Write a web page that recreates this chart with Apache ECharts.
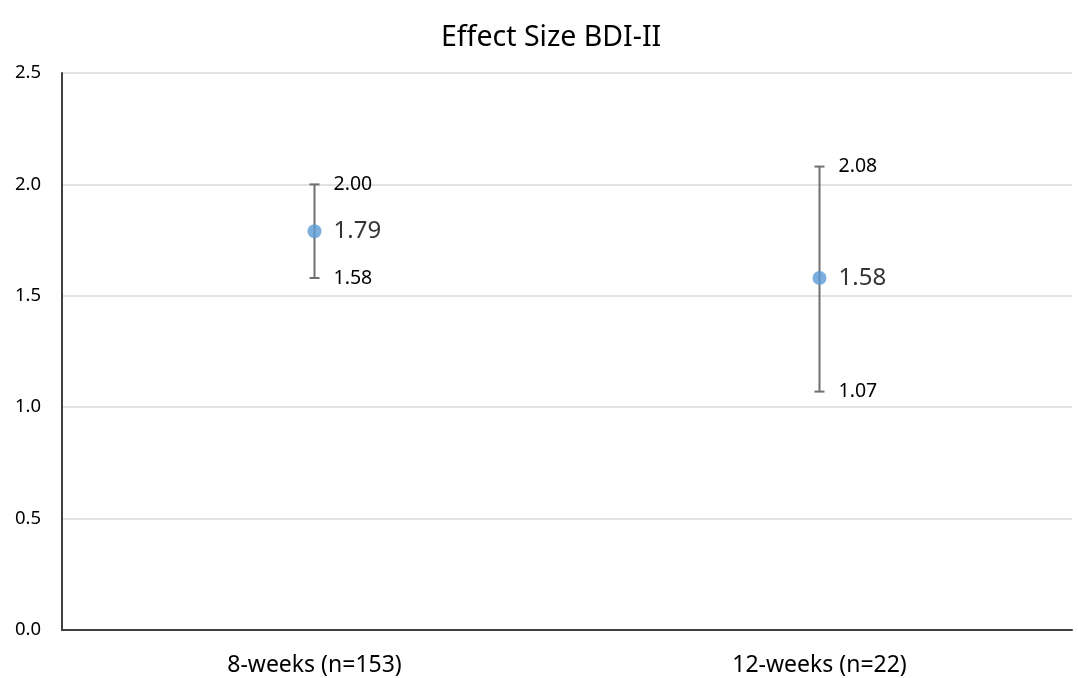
<!DOCTYPE html>
<html>
<head>
<meta charset="utf-8">
<script src="https://cdn.jsdelivr.net/npm/echarts@6/dist/echarts.min.js"></script>
<style>
  html, body { margin: 0; padding: 0; background: #fff; }
  #chart { width: 1078px; height: 678px; }
</style>
</head>
<body>
<div id="chart"></div>
<script>
// 数据
var categories = ['8-weeks (n=153)', '12-weeks (n=22)']
var means = [1.79, 1.58]
var lower = [1.58, 1.07]
var upper = [2.00, 2.08]
var yTicks = [0, 0.5, 1.0, 1.5, 2.0, 2.5]

var chart = echarts.init(document.getElementById('chart'))
var font = 'Noto Sans'

var errData = categories.map(function (c, i) { return [i, lower[i], upper[i]] })
var meanData = categories.map(function (c, i) { return [i, means[i]] })

var option = {
  animation: false,
  title: {
    text: 'Effect Size BDI-II',
    left: 436,
    top: 18,
    textStyle: { fontFamily: font, fontSize: 28.5, fontWeight: 'normal', color: '#000' }
  },
  grid: { left: 62, right: 6, top: 73, bottom: 48 },
  xAxis: {
    type: 'category',
    data: categories,
    axisLine: { lineStyle: { color: '#404040', width: 2 } },
    axisTick: { show: false },
    axisLabel: { fontFamily: font, fontSize: 23, color: '#000', margin: 24 }
  },
  yAxis: {
    type: 'value',
    min: yTicks[0],
    max: yTicks[yTicks.length - 1],
    interval: 0.5,
    axisLine: { show: true, lineStyle: { color: '#404040', width: 2 } },
    axisTick: { show: false },
    splitLine: { lineStyle: { color: '#d9d9d9', width: 1.5 } },
    axisLabel: {
      fontFamily: font, fontSize: 18.5, color: '#000', margin: 21,
      formatter: function (v) { return v.toFixed(1) }
    }
  },
  series: [
    {
      type: 'custom',
      data: errData,
      renderItem: function (params, api) {
        var top = api.coord([api.value(0), api.value(2)])
        var bot = api.coord([api.value(0), api.value(1)])
        var x = top[0]
        var cap = 5
        var st = { stroke: '#707070', lineWidth: 2 }
        return {
          type: 'group',
          children: [
            { type: 'line', shape: { x1: x, y1: top[1], x2: x, y2: bot[1] }, style: st },
            { type: 'line', shape: { x1: x - cap, y1: top[1], x2: x + cap, y2: top[1] }, style: st },
            { type: 'line', shape: { x1: x - cap, y1: bot[1], x2: x + cap, y2: bot[1] }, style: st },
            {
              type: 'text', x: x + 19, y: top[1],
              style: { text: api.value(2).toFixed(2), fontFamily: font, fontSize: 19.5, fill: '#000', verticalAlign: 'middle' }
            },
            {
              type: 'text', x: x + 19, y: bot[1],
              style: { text: api.value(1).toFixed(2), fontFamily: font, fontSize: 19.5, fill: '#000', verticalAlign: 'middle' }
            }
          ]
        }
      },
      z: 2
    },
    {
      type: 'scatter',
      data: meanData,
      symbolSize: 14,
      itemStyle: { color: '#5b9bd5' },
      label: {
        show: true,
        position: 'right',
        distance: 12,
        fontFamily: font,
        fontSize: 24,
        color: '#000',
        formatter: function (p) { return p.value[1].toFixed(2) }
      },
      z: 3
    }
  ]
}
chart.setOption(option)
</script>
</body>
</html>
